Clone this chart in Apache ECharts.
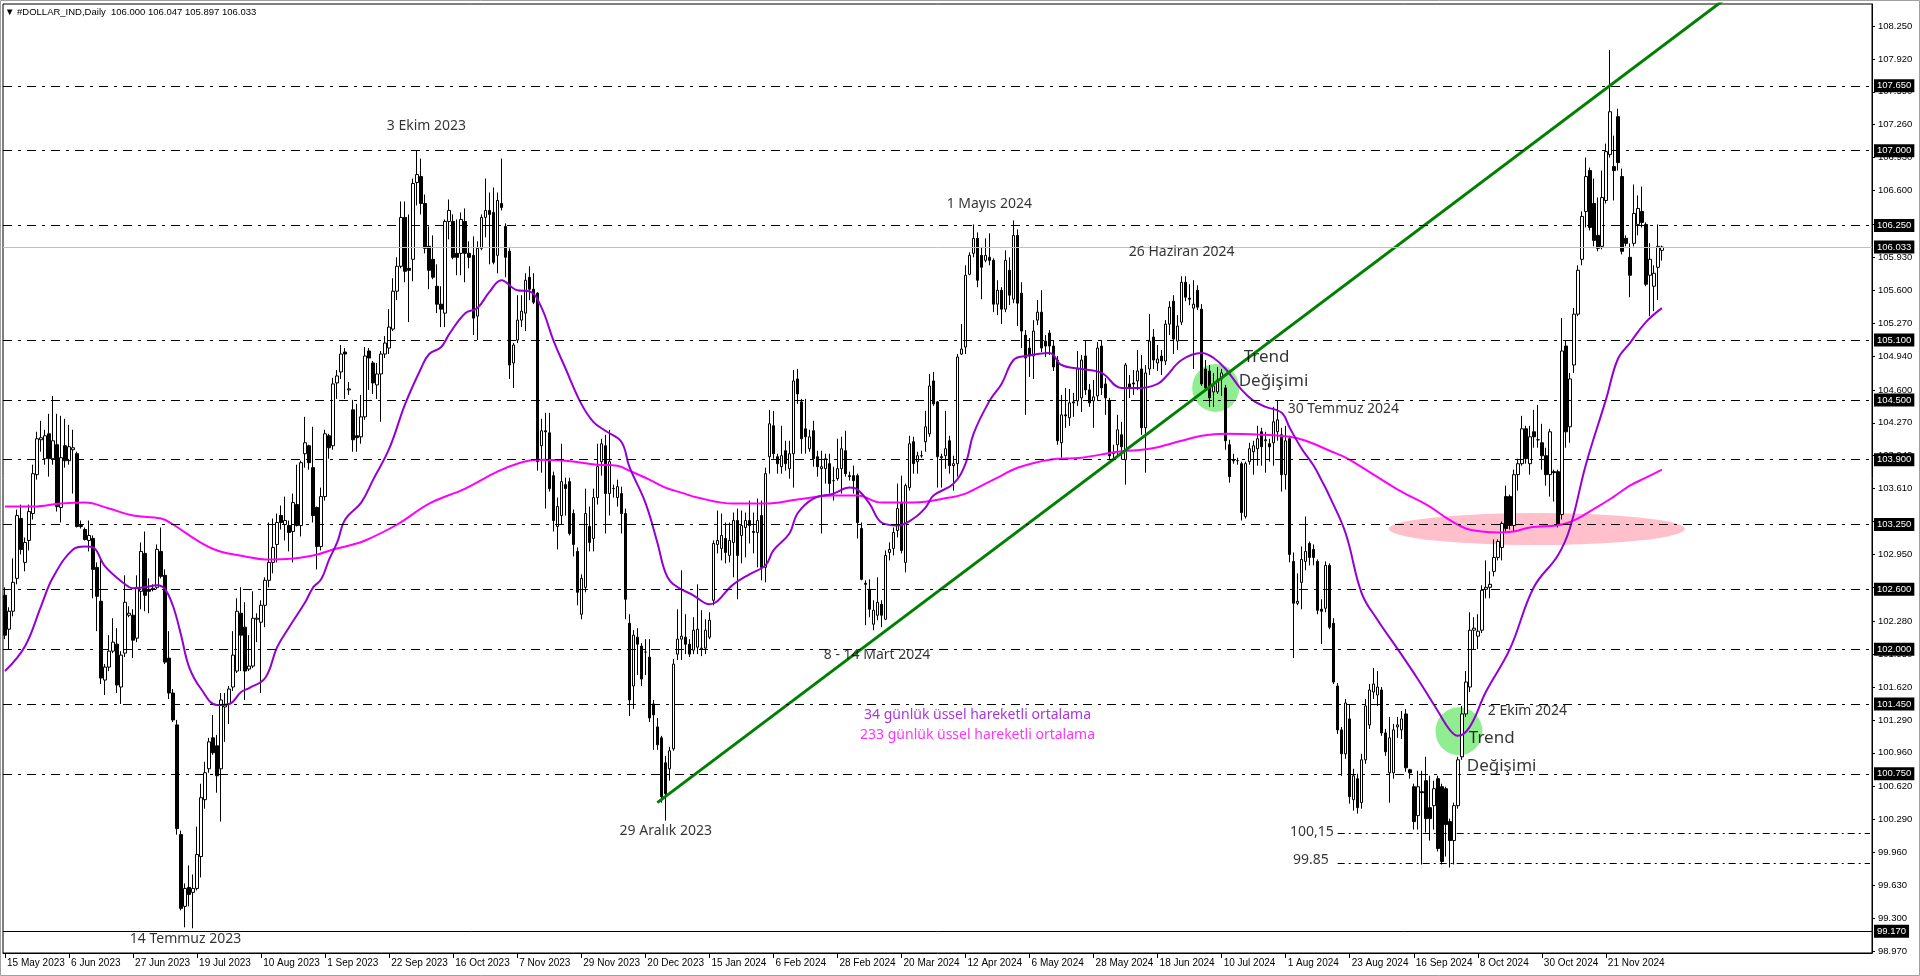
<!DOCTYPE html>
<html><head><meta charset="utf-8">
<script src="https://cdn.jsdelivr.net/npm/echarts@6/dist/echarts.min.js"></script>
<style>html,body{margin:0;padding:0;background:#fff;overflow:hidden}#c{width:1920px;height:976px}</style>
</head><body><div id="c"></div>
<script>
// ---------- DATA ----------
const symbolName = '#DOLLAR_IND,Daily';
const tickLabels = ['15 May 2023','6 Jun 2023','27 Jun 2023','19 Jul 2023','10 Aug 2023','1 Sep 2023','22 Sep 2023','16 Oct 2023','7 Nov 2023','29 Nov 2023','20 Dec 2023','15 Jan 2024','6 Feb 2024','28 Feb 2024','20 Mar 2024','12 Apr 2024','6 May 2024','28 May 2024','18 Jun 2024','10 Jul 2024','1 Aug 2024','23 Aug 2024','16 Sep 2024','8 Oct 2024','30 Oct 2024','21 Nov 2024'];
const barsPerLabel = 16;
const slotCount = 467;
const yTickValues = [98.970,99.300,99.630,99.960,100.290,100.620,100.960,101.290,101.620,101.950,102.280,102.620,102.950,103.280,103.610,103.940,104.270,104.600,104.940,105.270,105.600,105.930,106.260,106.600,106.930,107.260,107.590,107.920,108.250];

const opens = [
102.54,102.20,102.38,102.71,103.31,102.87,103.09,103.36,103.75,104.10,
103.91,104.16,103.91,104.05,103.42,104.04,103.89,104.00,103.96,103.24,
103.20,103.09,103.11,102.82,102.48,101.69,101.82,101.98,102.05,101.62,
101.96,102.34,102.34,102.11,102.58,102.96,102.60,102.60,102.62,102.98,
102.74,101.91,101.56,101.24,100.14,99.42,99.61,99.56,99.60,99.92,
100.49,100.80,101.11,101.03,100.80,101.42,101.45,101.62,101.78,102.36,
102.22,101.80,101.83,102.30,102.27,102.44,102.69,102.87,103.05,103.34,
103.25,103.24,103.18,103.45,103.24,103.96,104.04,103.82,103.42,103.03,
103.53,104.14,104.04,104.67,104.78,104.98,104.60,104.40,104.14,104.13,
104.33,104.99,104.87,104.65,104.76,104.96,105.02,105.21,105.59,105.84,
106.33,105.82,105.91,106.68,106.74,106.47,106.04,105.91,105.64,105.46,
105.37,106.29,106.29,105.97,105.97,106.29,105.97,105.95,105.34,106.02,
106.33,106.40,106.38,105.95,106.47,106.24,105.99,104.87,105.10,105.30,
105.37,105.73,105.61,105.57,104.04,104.19,104.17,103.74,103.23,103.34,
103.65,103.68,103.36,102.98,102.35,102.62,103.23,103.11,103.52,103.88,
104.04,103.56,103.61,103.52,103.56,103.36,102.26,101.63,102.12,102.03,
101.97,101.92,101.45,101.22,101.11,100.86,100.80,101.00,101.95,102.10,
102.12,102.05,101.99,102.02,102.00,102.01,102.12,102.49,103.05,103.01,
103.11,102.94,103.07,103.29,103.14,103.22,103.29,103.18,103.17,103.34,
102.82,103.93,104.24,103.93,103.83,103.99,103.81,103.96,104.71,104.48,
104.21,104.01,104.19,103.93,103.81,103.81,103.86,103.69,103.71,103.81,
103.99,103.74,103.74,103.74,103.21,102.66,102.60,102.25,102.34,102.45,
102.30,102.97,103.01,103.19,103.46,102.87,103.62,104.08,103.88,103.94,
104.08,104.16,104.69,104.48,103.93,103.94,104.09,103.84,103.86,104.96,
105.03,105.76,105.97,106.12,105.95,105.90,105.93,105.90,105.46,105.60,
105.41,105.80,105.51,106.15,105.57,105.15,105.02,104.94,105.30,105.38,
105.09,105.17,105.04,104.90,104.07,104.35,104.32,104.48,104.49,104.52,
104.94,104.60,104.49,104.54,105.04,104.66,104.49,103.96,104.05,104.15,
103.90,104.66,104.67,104.69,104.81,104.22,104.81,105.13,104.87,104.94,
104.89,105.26,105.49,105.09,105.28,105.68,105.52,105.42,105.60,105.41,
104.81,104.79,104.58,104.58,104.71,104.62,104.05,103.90,103.89,103.86,
103.33,103.88,103.98,104.01,104.18,104.09,104.06,104.07,104.18,104.15,
103.75,104.11,102.88,102.46,102.67,102.88,103.06,103.00,102.88,102.40,
102.41,102.84,102.26,101.63,101.19,100.95,101.30,100.49,100.70,100.46,
100.89,101.24,101.57,101.54,101.59,101.16,100.76,100.76,101.22,101.19,
101.35,100.79,100.62,100.33,100.57,100.68,100.41,100.43,100.70,100.62,
100.60,100.27,100.08,100.43,100.92,101.35,101.62,102.19,102.13,102.19,
102.60,102.62,102.78,102.92,103.02,103.53,103.53,103.24,103.75,103.86,
104.21,103.86,104.18,104.10,104.07,103.94,103.75,103.78,103.78,103.35,
105.04,104.23,104.85,105.36,105.91,106.39,106.80,106.47,106.15,106.04,
106.50,106.96,106.84,107.34,106.74,106.12,105.93,106.07,106.26,106.39,
106.26,105.75,105.64,105.83,106.000];

const highs = [
102.62,102.42,102.91,103.40,103.45,103.12,103.45,103.85,104.18,104.29,
104.20,104.36,104.54,104.36,104.34,104.31,104.25,104.20,103.98,103.29,
103.22,103.29,103.14,102.87,102.91,101.85,102.14,102.31,102.21,101.98,
102.74,102.43,102.40,102.74,103.07,103.18,102.71,102.65,103.05,103.22,
102.80,102.18,101.60,101.29,100.18,99.65,99.83,99.74,100.22,100.65,
100.87,101.11,101.34,101.14,101.56,101.56,101.63,102.18,102.51,102.62,
102.47,102.14,102.58,102.36,102.49,102.72,103.27,103.31,103.36,103.44,
103.53,103.29,103.56,103.85,103.89,104.33,104.05,104.23,103.43,103.62,
104.20,104.16,104.72,104.80,105.05,105.02,104.68,104.50,104.46,104.55,
105.03,105.02,104.89,104.87,104.99,105.14,105.41,105.72,105.93,106.49,
106.49,106.36,106.72,107.00,106.92,106.56,106.24,106.15,105.86,105.64,
106.31,106.51,106.36,106.31,106.38,106.42,106.09,106.14,106.09,106.36,
106.72,106.58,106.63,106.58,106.92,106.27,106.02,105.07,105.55,105.55,
105.77,105.84,105.77,105.58,104.31,104.37,104.37,103.78,103.52,104.06,
103.72,103.72,103.40,103.02,102.75,103.61,103.43,103.61,104.06,104.11,
104.15,104.20,103.65,103.70,103.63,103.41,102.35,102.19,102.21,102.06,
102.10,102.10,101.49,101.31,101.13,100.93,101.02,101.90,102.40,102.79,
102.35,102.10,102.32,102.65,102.39,102.30,102.37,103.09,103.39,103.36,
103.27,103.27,103.37,103.41,103.39,103.37,103.49,103.37,103.51,103.49,
103.82,104.40,104.39,103.96,104.24,104.09,104.09,104.80,104.81,104.51,
104.51,104.20,104.29,103.99,103.99,103.96,103.96,103.83,104.11,104.13,
104.19,103.78,103.84,103.76,103.27,102.69,102.70,102.49,102.72,102.49,
102.99,103.07,103.22,103.66,103.74,103.66,104.14,104.13,103.98,103.99,
104.39,104.76,104.78,104.49,103.96,104.39,104.14,103.94,104.96,105.26,
105.85,105.98,106.26,106.18,106.03,106.12,106.17,105.92,105.70,105.63,
106.00,105.93,106.30,106.21,105.68,105.20,105.12,105.30,105.50,105.60,
105.15,105.20,105.10,104.94,104.55,104.62,104.61,104.57,104.99,104.95,
105.09,104.66,104.70,105.08,105.10,104.72,104.52,104.05,104.35,104.28,
104.87,104.75,104.80,105.00,104.95,104.85,105.36,105.21,105.05,105.00,
105.30,105.49,105.55,105.35,105.74,105.74,105.66,105.70,105.65,105.46,
104.90,104.85,104.77,104.83,104.81,104.65,104.10,103.96,103.92,103.88,
103.88,104.07,104.09,104.24,104.22,104.18,104.11,104.43,104.49,104.22,
104.24,104.14,102.97,102.76,103.03,103.33,103.08,103.05,102.90,102.50,
102.88,102.86,102.31,101.66,101.22,101.50,101.45,100.80,100.75,100.95,
101.50,101.65,101.81,101.78,101.62,101.20,101.32,101.25,101.32,101.38,
101.40,100.80,100.65,100.78,100.78,100.92,100.73,100.68,100.73,100.65,
100.62,100.30,100.46,100.92,101.43,101.78,102.37,102.32,102.35,102.64,
102.89,102.78,103.10,103.10,103.28,103.64,103.55,103.80,103.91,104.34,
104.24,104.24,104.40,104.45,104.26,104.02,104.21,103.80,103.80,105.32,
105.10,104.77,105.42,105.85,106.39,106.93,106.83,106.72,106.53,106.80,
107.07,108.01,107.15,107.42,106.82,106.15,106.07,106.66,106.55,106.64,
106.28,106.07,105.85,106.26,106.047];

const lows = [
102.10,102.00,102.33,102.65,102.95,102.78,102.99,103.30,103.70,103.98,
103.85,103.73,103.85,103.38,103.27,103.82,103.85,103.56,103.22,103.21,
103.09,102.98,102.51,102.18,101.65,101.54,101.78,101.96,101.56,101.45,
101.92,102.32,101.91,102.07,102.40,102.38,102.36,102.58,102.60,102.71,
101.85,101.50,101.27,100.14,99.38,99.21,99.42,99.20,99.58,99.71,
100.40,100.76,100.94,100.56,100.27,101.07,101.25,101.58,101.76,101.78,
101.49,101.78,101.81,102.07,101.56,102.22,102.62,102.76,102.87,103.20,
103.09,102.98,102.87,103.23,103.13,103.82,103.80,103.27,102.80,102.99,
103.49,103.91,104.00,104.51,104.71,104.51,104.55,103.98,103.98,104.06,
104.30,104.60,104.56,104.51,104.28,104.92,104.96,105.19,105.50,105.82,
105.68,105.28,105.69,106.45,106.36,105.97,105.61,105.71,105.37,105.23,
105.23,106.11,105.91,105.75,105.75,105.68,105.82,105.15,105.10,106.00,
106.13,105.86,105.86,105.77,106.40,105.73,104.71,104.62,105.07,105.23,
105.19,105.50,105.46,103.79,103.77,103.41,103.58,103.18,103.00,103.25,
103.34,103.14,102.93,102.44,102.30,102.57,102.98,102.98,103.45,103.74,
103.16,103.34,103.52,103.43,103.16,102.30,101.33,101.40,101.74,101.63,
101.74,101.27,100.99,100.99,100.46,100.28,100.68,100.98,101.89,101.89,
101.95,101.92,101.95,101.95,101.93,101.95,102.10,102.44,102.96,102.89,
102.86,102.87,102.72,102.50,102.86,102.92,103.06,102.96,102.82,102.69,
102.67,103.76,103.91,103.76,103.76,103.79,103.71,103.62,104.46,103.96,
103.96,103.98,103.83,103.73,103.16,103.66,103.56,103.49,103.69,103.56,
103.73,103.69,103.56,103.11,102.69,102.24,102.32,102.19,102.29,102.22,
102.29,102.89,102.94,103.12,102.96,102.77,103.59,103.76,103.76,103.92,
103.98,104.13,104.44,103.62,103.62,103.81,103.76,103.59,103.73,104.95,
104.96,105.75,105.93,105.63,105.51,105.88,105.85,105.38,105.35,105.26,
105.38,105.45,105.47,105.24,105.02,104.35,104.73,104.71,105.25,104.98,
104.93,104.95,104.79,104.05,103.92,104.22,104.24,104.33,104.44,104.38,
104.55,104.43,104.22,104.49,104.55,104.35,103.90,103.90,103.92,103.90,
103.65,104.52,104.55,104.60,104.15,103.77,104.75,104.81,104.79,104.75,
104.85,105.15,104.96,105.00,105.25,105.49,105.45,104.81,105.40,104.64,
104.60,104.43,104.43,104.56,104.54,104.00,103.67,103.86,103.85,103.29,
103.31,103.85,103.75,103.84,103.84,103.77,103.88,103.84,104.09,103.58,
103.60,102.87,101.91,102.44,102.40,102.79,102.84,102.84,102.35,102.05,
102.37,102.20,101.65,101.15,100.73,100.90,100.45,100.38,100.35,100.40,
100.85,101.20,101.50,101.43,101.13,100.93,100.46,100.70,101.11,101.10,
100.77,100.70,100.19,100.19,99.84,100.16,100.08,100.19,99.97,99.84,
99.92,99.81,99.84,100.40,100.89,101.32,101.57,102.00,102.00,102.16,
102.51,102.51,102.73,102.89,102.89,103.18,103.20,103.18,103.59,103.84,
103.86,103.75,104.02,104.02,103.80,103.64,103.53,103.48,103.22,103.30,
104.02,104.07,104.77,105.34,105.85,106.23,106.20,106.04,105.99,106.01,
106.47,106.93,106.50,106.80,105.96,106.04,105.53,106.04,106.15,106.23,
105.64,105.34,105.39,105.50,105.897];

const closes = [
102.14,102.38,102.67,103.34,103.00,103.07,103.38,103.76,104.11,104.12,
104.14,103.91,104.09,103.43,103.92,103.89,104.03,104.02,103.23,103.23,
103.10,103.14,102.80,102.53,101.71,101.82,101.98,102.07,101.64,101.94,
102.47,102.36,102.09,102.62,102.98,102.54,102.58,102.61,103.00,102.73,
101.87,101.56,101.29,100.20,99.40,99.60,99.54,99.60,99.94,100.51,
100.76,101.07,100.96,100.73,101.49,101.44,101.60,101.94,102.38,102.14,
101.78,101.83,102.31,102.31,102.44,102.69,102.87,103.02,103.27,103.27,
103.29,103.17,103.47,103.24,103.87,104.07,103.87,103.34,103.03,103.53,
104.16,104.02,104.66,104.74,104.96,104.96,104.61,104.10,104.12,104.33,
104.94,104.92,104.67,104.76,104.96,105.07,105.23,105.59,105.84,106.33,
105.79,105.80,106.67,106.76,106.47,106.02,105.80,105.73,105.46,105.41,
106.29,106.40,105.93,105.93,106.31,105.97,105.93,105.32,106.02,106.33,
106.40,106.36,105.88,106.50,106.43,105.93,104.85,105.05,105.30,105.39,
105.70,105.61,105.48,103.88,104.19,104.18,103.61,103.29,103.43,103.68,
103.61,103.16,103.05,102.57,102.71,103.36,103.07,103.52,103.83,104.06,
103.56,103.88,103.61,103.63,103.36,102.50,101.49,102.14,102.05,101.70,
101.97,101.31,101.34,101.04,100.52,100.55,100.98,101.85,102.10,102.13,
102.05,101.95,102.19,102.20,102.01,102.19,102.29,103.06,103.09,103.14,
102.97,103.09,103.29,102.94,103.24,103.29,103.24,103.17,103.29,102.82,
103.76,104.26,103.96,103.86,103.94,103.86,103.96,104.69,104.56,104.11,
104.13,104.13,103.91,103.83,103.83,103.91,103.66,103.69,103.81,104.01,
103.76,103.73,103.69,103.27,102.70,102.65,102.40,102.39,102.47,102.34,
102.94,103.00,103.17,103.41,102.99,103.64,104.06,103.86,103.94,103.94,
104.23,104.64,104.46,103.93,103.92,104.01,103.84,103.86,104.93,105.01,
105.75,105.95,106.12,105.70,105.83,105.95,105.90,105.46,105.60,105.41,
105.90,105.55,106.15,105.47,105.19,104.92,104.94,105.19,105.38,105.02,
105.04,105.04,104.83,104.09,104.35,104.34,104.47,104.47,104.81,104.90,
104.60,104.47,104.53,105.02,104.62,104.52,103.94,103.97,104.20,104.03,
104.85,104.62,104.66,104.79,104.22,104.77,105.09,104.90,104.91,104.89,
105.26,105.43,105.11,105.24,105.68,105.53,105.51,105.46,105.43,104.66,
104.62,104.52,104.64,104.70,104.77,104.09,103.73,103.89,103.89,103.37,
103.86,104.01,104.04,104.11,104.03,104.10,104.03,104.28,104.30,103.75,
104.09,102.95,102.46,102.48,102.90,102.98,102.92,102.92,102.39,102.38,
102.84,102.22,101.67,101.19,100.95,101.46,100.52,100.73,100.41,100.89,
101.43,101.59,101.65,101.62,101.16,100.97,101.11,101.19,101.24,101.30,
100.81,100.76,100.27,100.62,100.56,100.30,100.30,100.60,100.00,99.87,
100.24,100.08,100.43,100.89,101.35,101.67,102.19,102.21,102.18,102.59,
102.62,102.65,102.92,103.08,103.26,103.21,103.24,103.75,103.86,104.21,
103.91,104.13,104.13,104.10,103.94,103.75,104.18,103.77,103.24,104.99,
104.18,104.71,105.36,105.80,106.34,106.74,106.23,106.10,106.02,106.53,
106.99,107.39,106.80,106.88,105.99,106.07,105.75,106.37,106.42,106.28,
105.66,105.91,105.77,106.04,106.033];

// EMA values: [bar index, value]
const ema34 = [[0,101.78],[5,102.03],[9,102.43],[12,102.72],[17,103.00],[20,103.03],[22,103.02],[25,102.83],[30,102.65],[32,102.61],[35,102.62],[38,102.64],[40,102.60],[42,102.43],[44,102.14],[46,101.82],[49,101.60],[53,101.44],[56,101.45],[59,101.57],[61,101.61],[65,101.71],[68,102.02],[71,102.22],[75,102.47],[77,102.62],[79,102.70],[81,102.90],[83,103.07],[85,103.30],[89,103.47],[92,103.70],[96,104.01],[100,104.46],[104,104.82],[106,104.96],[109,105.03],[111,105.16],[115,105.37],[118,105.42],[121,105.58],[124,105.70],[128,105.60],[131,105.59],[134,105.43],[137,105.10],[140,104.82],[144,104.46],[147,104.28],[150,104.19],[154,104.08],[156,103.83],[160,103.47],[163,103.07],[165,102.77],[167,102.65],[172,102.54],[176,102.45],[182,102.65],[186,102.75],[190,102.84],[192,102.99],[196,103.16],[198,103.36],[202,103.51],[207,103.56],[211,103.62],[213,103.60],[216,103.46],[219,103.27],[223,103.24],[227,103.31],[230,103.42],[232,103.54],[237,103.66],[240,103.86],[242,104.16],[246,104.49],[249,104.66],[252,104.90],[255,104.94],[261,104.97],[264,104.85],[269,104.81],[274,104.77],[279,104.62],[284,104.62],[288,104.66],[290,104.73],[294,104.90],[299,104.97],[302,104.92],[305,104.81],[309,104.60],[312,104.49],[315,104.43],[319,104.37],[321,104.22],[324,104.01],[327,103.84],[329,103.69],[331,103.53],[335,103.16],[339,102.56],[343,102.29],[348,102.00],[353,101.70],[358,101.38],[361,101.19],[363,101.13],[366,101.22],[370,101.57],[376,102.00],[382,102.62],[388,102.94],[391,103.21],[395,103.85],[400,104.50],[403,104.91],[406,105.07],[410,105.28],[414,105.42]];
const ema233 = [[0,103.43],[7,103.43],[14,103.46],[20,103.47],[26,103.41],[32,103.34],[39,103.31],[42,103.25],[48,103.09],[53,102.99],[60,102.93],[65,102.90],[72,102.91],[78,102.95],[82,103.00],[86,103.04],[90,103.09],[98,103.25],[106,103.46],[115,103.61],[123,103.78],[128,103.86],[133,103.90],[140,103.89],[148,103.85],[153,103.84],[156,103.79],[161,103.70],[165,103.62],[169,103.57],[173,103.52],[182,103.46],[190,103.46],[198,103.50],[207,103.54],[213,103.54],[219,103.47],[227,103.47],[236,103.52],[240,103.56],[245,103.66],[249,103.74],[253,103.82],[261,103.90],[269,103.92],[278,103.98],[286,104.01],[294,104.09],[299,104.14],[305,104.16],[314,104.15],[321,104.13],[325,104.09],[331,103.99],[335,103.92],[340,103.80],[348,103.60],[356,103.43],[360,103.32],[365,103.21],[369,103.18],[373,103.17],[377,103.18],[381,103.22],[390,103.26],[398,103.43],[402,103.53],[406,103.64],[410,103.72],[414,103.80]];

// drawn objects (anchors in bar index / price)
const trendLine = [[163,100.46],[440,108.83]];
const levelPrices = [107.65,107.00,106.25,105.10,104.50,103.90,103.25,102.60,102.00,101.45,100.75];
const currentPrice = 106.033;
const floorPrice = 99.17;
const partialLevels = [[333,100.15],[333,99.85]];
const highlightZone = [[382.75,103.205]];
const trendChangeSpots = [[302.5,104.62],[363.3,101.176]];
const dateNotes = [['3 Ekim 2023',105.3,107.246],['14 Temmuz 2023',45.1,99.093],['29 Aralık 2023',165.1,100.172],['8 - 14 Mart 2024',217.9,101.94],['1 Mayıs 2024',245.95,106.46],['26 Haziran 2024',294,105.98]];
const sideNotes = [['30 Temmuz 2024',320.5,104.41],['2 Ekim 2024',370.5,101.38]];
const trendNotes = [['Trend',309.5,104.93],['Değişimi',308.25,104.69],['Trend',365.75,101.11],['Değişimi',365.25,100.83]];
const levelNotes = [['100,15',332,100.166],['99.85',330.75,99.885]];
const legendNotes = [['34 günlük üssel hareketli ortalama',243,101.339]];
const legendNotes2 = [['233 günlük üssel hareketli ortalama',243,101.142]];

// ---------- CHART ----------
const n = Math.min(opens.length, highs.length, lows.length, closes.length);
const candleData = [];
for (let i = 0; i < n; i++) candleData.push([opens[i], closes[i], lows[i], highs[i]]);
const categories = Array.from({length: slotCount}, (_, i) => String(i));
const f3 = v => Number(v).toFixed(3);
const AX_FONT = '"Liberation Sans", Arial, sans-serif';
const NOTE_FONT = '"Noto Sans", sans-serif';
const dashDot = [9, 6, 3, 6];
const boxLabel = {show: true, position: 'end', distance: 2, formatter: p => f3(p.value), backgroundColor: '#000', color: '#fff', padding: [2, 3, 1, 3], fontSize: 9.5, fontFamily: AX_FONT};
const tickShown = (i) => i % barsPerLabel === 0 && (i / barsPerLabel) < tickLabels.length;

const markData = levelPrices.map(v => ({yAxis: v, lineStyle: {color: '#000', width: 1, type: dashDot}, label: boxLabel}));
markData.push({yAxis: currentPrice, lineStyle: {color: '#C0C0C0', width: 1, type: 'solid'}, label: boxLabel});
markData.push({yAxis: floorPrice, lineStyle: {color: '#000', width: 1, type: 'solid'}, label: boxLabel});
partialLevels.forEach(([x, v]) => markData.push([
  {coord: [x, v], lineStyle: {color: '#000', width: 1, type: [7, 4, 2, 4]}, label: {show: false}},
  {coord: [slotCount - 1, v]}
]));

const noteSeries = (data, opts) => ({
  type: 'scatter', xAxisIndex: 1, yAxisIndex: 0, data, symbolSize: 1, silent: true, z: 6,
  itemStyle: {color: 'rgba(0,0,0,0)'},
  label: Object.assign({show: true, position: 'inside', formatter: p => p.data[0], fontFamily: NOTE_FONT, fontSize: 14, color: '#000', align: 'center', verticalAlign: 'middle'}, opts),
  encode: {x: 1, y: 2}
});

const chart = echarts.init(document.getElementById('c'), null, {renderer: 'canvas'});
chart.setOption({
  animation: false,
  backgroundColor: '#fff',
  title: {text: '▼ ' + symbolName + '  ' + [opens[n-1], highs[n-1], lows[n-1], closes[n-1]].map(f3).join(' '),
          left: 5, top: 7, padding: 0,
          textStyle: {fontSize: 9.5, fontWeight: 'normal', fontFamily: AX_FONT, color: '#000'}},
  grid: {left: 3, right: 48, top: 4, bottom: 23, show: true, borderColor: '#000', borderWidth: 1, backgroundColor: '#fff'},
  xAxis: [
    {type: 'category', data: categories, boundaryGap: true,
     axisLine: {show: true, lineStyle: {color: '#000', width: 1}},
     axisTick: {show: true, alignWithLabel: true, interval: tickShown, length: 5, lineStyle: {color: '#000'}},
     axisLabel: {show: true, interval: tickShown, formatter: (v, i) => tickLabels[i / barsPerLabel] || '', align: 'left', margin: 5,
                 fontSize: 10, fontFamily: AX_FONT, color: '#000', padding: [0, 0, 0, 2]},
     splitLine: {show: false}},
    {type: 'value', min: -0.5, max: slotCount - 0.5, show: false}
  ],
  yAxis: {type: 'value', position: 'right', min: 98.9522, max: 108.4707,
          axisLine: {show: true, onZero: false, lineStyle: {color: '#000', width: 1}},
          axisTick: {show: true, length: 3, customValues: yTickValues, lineStyle: {color: '#000'}},
          axisLabel: {show: true, customValues: yTickValues, formatter: v => f3(v), margin: 6, fontSize: 9.5, fontFamily: AX_FONT, color: '#000'},
          splitLine: {show: false}},
  graphic: [{type: 'rect', shape: {x: 0.5, y: 0.5, width: 1919, height: 975}, style: {fill: null, stroke: '#A0A0A0', lineWidth: 1}, silent: true, z: 100}],
  series: [
    {type: 'scatter', xAxisIndex: 1, data: highlightZone, symbol: 'circle', symbolSize: [296, 32], itemStyle: {color: '#FFC0CB', opacity: 1}, silent: true, z: 1},
    {type: 'scatter', xAxisIndex: 1, data: trendChangeSpots, symbol: 'circle', symbolSize: [47, 48], itemStyle: {color: '#90EE90', opacity: 1}, silent: true, z: 1},
    {type: 'line', xAxisIndex: 1, data: ema233, smooth: 0.4, showSymbol: false, silent: true, lineStyle: {color: '#FF00FF', width: 2}, z: 3},
    {type: 'line', xAxisIndex: 1, data: ema34, smooth: 0.4, showSymbol: false, silent: true, lineStyle: {color: '#9400D3', width: 2}, z: 3},
    {type: 'candlestick', xAxisIndex: 0, data: candleData, barWidth: 3, silent: true, z: 2,
     itemStyle: {color: '#fff', color0: '#000', borderColor: '#000', borderColor0: '#000', borderWidth: 1},
     markLine: {symbol: ['none', 'none'], silent: true, animation: false, precision: 3, data: markData}},
    {type: 'line', xAxisIndex: 1, data: trendLine, showSymbol: false, silent: true, clip: true, lineStyle: {color: '#008000', width: 3}, z: 4},
    noteSeries(dateNotes, {}),
    noteSeries(sideNotes, {align: 'left'}),
    noteSeries(trendNotes, {align: 'left', fontSize: 17}),
    noteSeries(levelNotes, {align: 'right'}),
    noteSeries(legendNotes, {color: '#9400D3'}),
    noteSeries(legendNotes2, {color: '#FF00FF'})
  ]
});
</script></body></html>
